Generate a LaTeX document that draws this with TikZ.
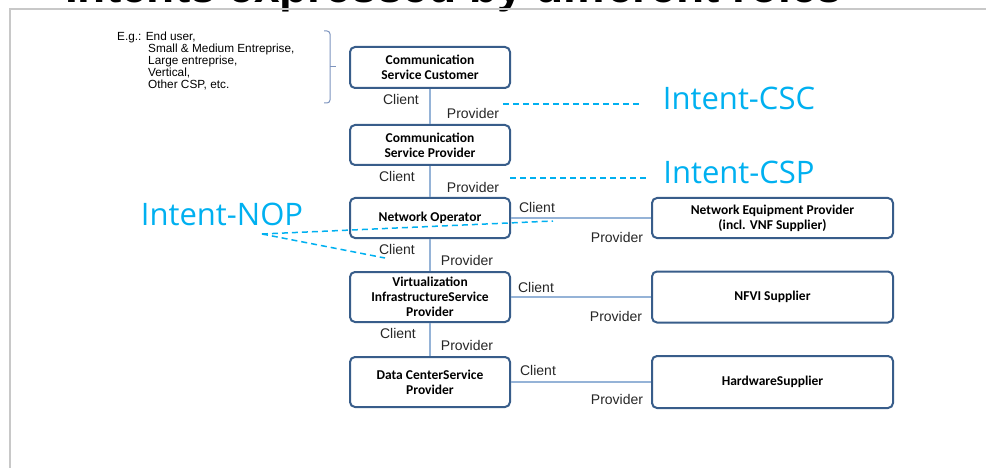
\documentclass[tikz,border=0pt]{standalone}
\usepackage{fontspec}
\setmainfont{Liberation Sans}
\newfontfamily\rolefont{Carlito}
\newfontfamily\intentfont{Open Sans}
\definecolor{roleborder}{RGB}{56,93,138}
\definecolor{linkblue}{RGB}{149,179,215}
\definecolor{intent}{RGB}{0,176,240}
\definecolor{framegray}{RGB}{200,200,200}
\definecolor{bracket}{RGB}{125,148,190}
\tikzstyle{role}=[draw=roleborder, line width=2pt, rounded corners=5pt, fill=white, align=center, inner sep=0pt, minimum width=160pt, font=\rolefont\bfseries\fontsize{13.5}{15}\selectfont]
\tikzstyle{supplier}=[role, minimum width=241pt]
\tikzstyle{lbl}=[inner sep=0pt, text=black!85, font=\fontsize{14}{16}\selectfont]
\tikzstyle{link}=[draw=linkblue, line width=1.5pt]
\tikzstyle{intentline}=[draw=intent, line width=1.5pt, dash pattern=on 6pt off 4pt]
\tikzstyle{intentlbl}=[inner sep=0pt, text=intent, font=\intentfont\fontsize{31}{36}\selectfont]

\begin{document}
\begin{tikzpicture}[x=1pt,y=-1pt]
  \useasboundingbox (0,0) rectangle (986,468);
  \clip (0,0) rectangle (986,468);
  %% heading, cut off at the top
  \draw (65,3) node[anchor=base west, inner sep=0pt, font=\bfseries\fontsize{46}{50}\selectfont] (title) {Intents expressed by different roles};
  \draw[framegray, line width=1.5pt] (986,9) -- (10,9) -- (10,468);

  %% examples of customers
  \draw (117,32) node[anchor=north west, align=left, inner sep=0pt, font=\fontsize{11.8}{12}\selectfont] (examples) {E.g.: End user,\\\hspace*{31pt}Small \& Medium Entreprise,\\\hspace*{31pt}Large entreprise,\\\hspace*{31pt}Vertical,\\\hspace*{31pt}Other CSP, etc.};
  \draw[bracket, line width=1pt, rounded corners=3pt] (324,31) -- (330,31) -- (330,103) -- (324,103);
  \draw[bracket, line width=1pt] (330,67) -- (336,67);

  %% roles
  \draw (430,67.5) node[role, minimum height=41pt] (csc) {Communication\\Service Customer};
  \draw (430,145) node[role, minimum height=40pt] (csp) {Communication\\Service Provider};
  \draw (430,218) node[role, minimum height=40pt] (nop) {Network Operator};
  \draw (430,297) node[role, minimum height=50pt] (visp) {Virtualization\\InfrastructureService\\Provider};
  \draw (430,382) node[role, minimum height=50pt] (dcsp) {Data CenterService\\Provider};

  \draw (772.5,218) node[supplier, minimum height=40pt] (nep) {Network Equipment Provider\\(incl. VNF Supplier)};
  \draw (772.5,297) node[supplier, minimum height=51pt] (nfvi) {NFVI Supplier};
  \draw (772.5,382) node[supplier, minimum height=52pt] (hws) {HardwareSupplier};

  %% client / provider links
  \draw[link] (csc) -- (csp);
  \draw[link] (csp) -- (nop);
  \draw[link] (nop) -- (visp);
  \draw[link] (visp) -- (dcsp);
  \draw[link] (nop) -- (nep);
  \draw[link] (visp) -- (nfvi);
  \draw[link] (dcsp) -- (hws);

  \draw (401,99) node[lbl] (cl1) {Client};
  \draw (473,113) node[lbl] (pr1) {Provider};
  \draw (397,176) node[lbl] (cl2) {Client};
  \draw (473,187) node[lbl] (pr2) {Provider};
  \draw (397,249) node[lbl] (cl3) {Client};
  \draw (467,260) node[lbl] (pr3) {Provider};
  \draw (398,333) node[lbl] (cl4) {Client};
  \draw (467,345) node[lbl] (pr4) {Provider};

  \draw (537,207) node[lbl] (cl5) {Client};
  \draw (617,237) node[lbl] (pr5) {Provider};
  \draw (536,287) node[lbl] (cl6) {Client};
  \draw (616,316) node[lbl] (pr6) {Provider};
  \draw (538,370) node[lbl] (cl7) {Client};
  \draw (617,399) node[lbl] (pr7) {Provider};

  %% intents
  \draw (739,98) node[intentlbl] (icsc) {Intent-CSC};
  \draw (739,172) node[intentlbl] (icsp) {Intent-CSP};
  \draw (222,214) node[intentlbl] (inop) {Intent-NOP};
  \coordinate (c1) at (503,104);
  \coordinate (c2) at (640,104);
  \coordinate (p1) at (510,178);
  \coordinate (p2) at (648,178);
  \coordinate (n0) at (262,234);
  \coordinate (n1) at (553,221);
  \coordinate (n2) at (385,258);
  \draw[intentline] (c1) -- (c2);
  \draw[intentline] (p1) -- (p2);
  \draw[intentline] (n0) -- (n1);
  \draw[intentline] (n0) -- (n2);
\end{tikzpicture}
\end{document}
